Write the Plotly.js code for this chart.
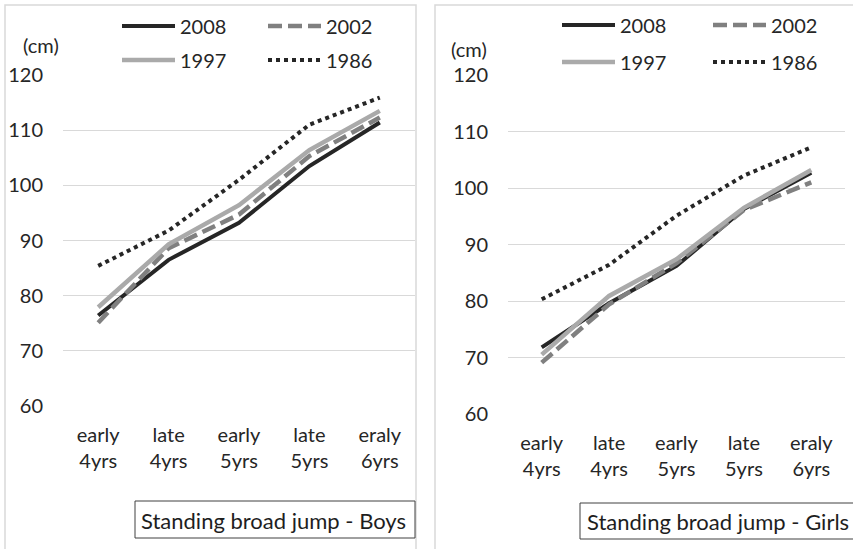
<!DOCTYPE html>
<html>
<head>
<meta charset="utf-8">
<script src="https://cdn.plot.ly/plotly-3.0.1.min.js"></script>
<style>html,body{margin:0;padding:0;background:#fff;}#chart{width:853px;height:549px;}</style>
</head>
<body>
<div id="chart"></div>
<script>
// ---- data ----
var categories = ["early 4yrs", "late 4yrs", "early 5yrs", "late 5yrs", "eraly 6yrs"];
var tickLabels = ["early<br>4yrs", "late<br>4yrs", "early<br>5yrs", "late<br>5yrs", "eraly<br>6yrs"];
var seriesNames = ["2008", "2002", "1997", "1986"];

var boys2008 = [76.4, 86.5, 93.2, 103.5, 111.4];
var boys2002 = [75.1, 88.6, 94.7, 105.3, 112.3];
var boys1997 = [77.9, 89.3, 96.4, 106.4, 113.5];
var boys1986 = [85.4, 91.8, 101.0, 111.0, 115.9];

var girls2008 = [71.8, 79.6, 86.2, 96.3, 102.7];
var girls2002 = [69.1, 79.4, 86.7, 96.1, 101.0];
var girls1997 = [70.5, 80.9, 87.4, 96.5, 103.2];
var girls1986 = [80.3, 86.4, 95.1, 102.2, 107.2];

var yTicks = [60, 70, 80, 90, 100, 110, 120];

// ---- styles ----
var W = 853, H = 549;
var FONT = "Lato, 'Open Sans', sans-serif";
var TXT = "#262626";
var styles = [
  {color: "#262626", width: 4, dash: "solid"},
  {color: "#808080", width: 4.5, dash: "14px,6px"},
  {color: "#aaaaaa", width: 4.5, dash: "solid"},
  {color: "#262626", width: 4, dash: "4px,4px"}
];

function mk(name, y, idx, xa, ya, leg) {
  var s = styles[idx];
  return {
    type: "scatter", mode: "lines", name: name, x: categories, y: y,
    xaxis: xa, yaxis: ya, legend: leg, cliponaxis: false,
    line: {color: s.color, width: s.width, dash: s.dash},
    hoverinfo: "x+y+name"
  };
}

var data = [
  mk(seriesNames[0], boys2008, 0, "x", "y", "legend"),
  mk(seriesNames[1], boys2002, 1, "x", "y", "legend2"),
  mk(seriesNames[2], boys1997, 2, "x", "y", "legend3"),
  mk(seriesNames[3], boys1986, 3, "x", "y", "legend4"),
  mk(seriesNames[0], girls2008, 0, "x2", "y2", "legend5"),
  mk(seriesNames[1], girls2002, 1, "x2", "y2", "legend6"),
  mk(seriesNames[2], girls1997, 2, "x2", "y2", "legend7"),
  mk(seriesNames[3], girls1986, 3, "x2", "y2", "legend8")
];

function px(x) { return x / W; }
function py(y) { return 1 - y / H; }

function xaxis(d, anchor) {
  return {
    domain: d, anchor: anchor, type: "category", range: [-0.5, 4.5],
    tickvals: categories, ticktext: tickLabels,
    showgrid: false, zeroline: false, showline: false, ticks: "",
    tickfont: {family: FONT, size: 20, color: TXT},
    ticklabelstandoff: 15, fixedrange: true
  };
}
function yaxis(d, anchor) {
  return {
    domain: d, anchor: anchor, range: [60, 120], tickvals: yTicks,
    showgrid: true, gridcolor: "#d9d9d9", gridwidth: 1,
    zeroline: false, showline: false, ticks: "",
    tickfont: {family: FONT, size: 20, color: TXT},
    ticklabelstandoff: 19, fixedrange: true
  };
}

function legendAt(xLine, yPix) {
  return {
    orientation: "h", x: px(xLine - 5), y: py(yPix), xanchor: "left", yanchor: "middle",
    xref: "paper", yref: "paper", itemwidth: 53,
    font: {family: FONT, size: 20, color: TXT},
    bgcolor: "rgba(0,0,0,0)", borderwidth: 0, itemclick: false, itemdoubleclick: false
  };
}

var layout = {
  width: W, height: H,
  margin: {l: 0, r: 0, t: 0, b: 0},
  paper_bgcolor: "#ffffff", plot_bgcolor: "#ffffff",
  showlegend: true,
  xaxis: xaxis([px(63), px(415)], "y"),
  yaxis: yaxis([py(406), py(75)], "x"),
  xaxis2: xaxis([px(508), px(845)], "y2"),
  yaxis2: yaxis([py(414), py(75)], "x2"),
  legend: legendAt(122, 26),
  legend2: legendAt(268, 26),
  legend3: legendAt(122, 60),
  legend4: legendAt(268, 60),
  legend5: legendAt(562, 25),
  legend6: legendAt(713, 25),
  legend7: legendAt(562, 62),
  legend8: legendAt(713, 62),
  shapes: [
    {type: "rect", xref: "paper", yref: "paper", x0: px(5), x1: px(416), y0: py(560), y1: py(5),
     line: {color: "#d9d9d9", width: 1.5}, fillcolor: "rgba(0,0,0,0)", layer: "below"},
    {type: "rect", xref: "paper", yref: "paper", x0: px(435), x1: px(870), y0: py(560), y1: py(5),
     line: {color: "#d9d9d9", width: 1.5}, fillcolor: "rgba(0,0,0,0)", layer: "below"},
    {type: "rect", xref: "paper", yref: "paper", x0: px(135), x1: px(415), y0: py(538), y1: py(501),
     line: {color: "#404040", width: 1}, fillcolor: "#ffffff"},
    {type: "rect", xref: "paper", yref: "paper", x0: px(580), x1: px(880), y0: py(539), y1: py(503),
     line: {color: "#404040", width: 1}, fillcolor: "#ffffff"}
  ],
  annotations: [
    {xref: "paper", yref: "paper", x: px(21), y: py(45), xanchor: "left", yanchor: "middle",
     text: "(cm)", showarrow: false, font: {family: FONT, size: 20, color: TXT}},
    {xref: "paper", yref: "paper", x: px(449), y: py(49), xanchor: "left", yanchor: "middle",
     text: "(cm)", showarrow: false, font: {family: FONT, size: 20, color: TXT}},
    {xref: "paper", yref: "paper", x: px(139), y: py(520), xanchor: "left", yanchor: "middle",
     text: "Standing broad jump - Boys", showarrow: false, font: {family: FONT, size: 22, color: "#1e1e1e"}},
    {xref: "paper", yref: "paper", x: px(585), y: py(521), xanchor: "left", yanchor: "middle",
     text: "Standing broad jump - Girls", showarrow: false, font: {family: FONT, size: 22, color: "#1e1e1e"}}
  ]
};

Plotly.newPlot("chart", data, layout, {displayModeBar: false});
</script>
</body>
</html>
